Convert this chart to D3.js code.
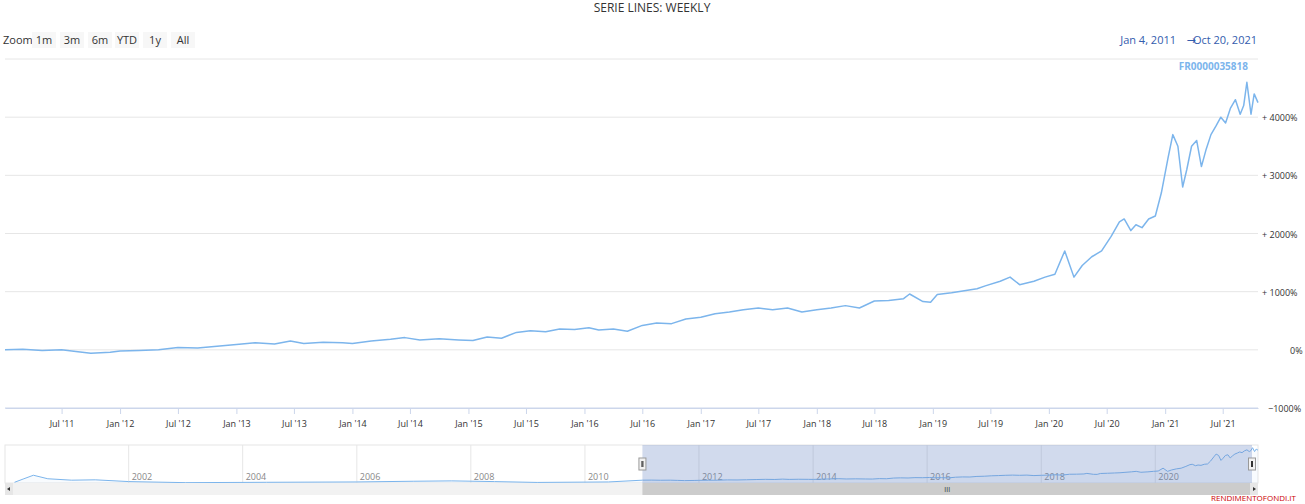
<!DOCTYPE html>
<html><head><meta charset="utf-8">
<script src="https://cdn.jsdelivr.net/npm/d3@7"></script>
<style>body{margin:0;background:#fff;font-family:"Open Sans","DejaVu Sans",sans-serif}</style>
</head><body><div id="chart"></div>
<script>
// main series (weekly-ish points), value in %
var dates = ["2011-01-04","2011-03-01","2011-05-01","2011-07-01","2011-08-15","2011-10-01","2011-12-01","2012-01-01","2012-03-01","2012-05-01","2012-07-01","2012-09-01","2012-11-01","2013-01-01","2013-03-01","2013-05-01","2013-06-20","2013-08-01","2013-10-01","2013-12-01","2014-01-01","2014-03-01","2014-05-01","2014-06-15","2014-08-01","2014-10-01","2014-12-01","2015-01-15","2015-03-01","2015-04-15","2015-06-01","2015-07-15","2015-09-01","2015-10-15","2015-12-01","2016-01-15","2016-02-15","2016-04-01","2016-05-15","2016-07-01","2016-08-15","2016-10-01","2016-11-15","2017-01-01","2017-02-15","2017-04-01","2017-05-15","2017-07-01","2017-08-15","2017-10-01","2017-11-15","2018-01-01","2018-02-15","2018-04-01","2018-05-15","2018-07-01","2018-08-15","2018-10-01","2018-10-20","2018-12-01","2018-12-25","2019-01-15","2019-03-01","2019-04-15","2019-05-20","2019-06-15","2019-08-01","2019-09-01","2019-10-01","2019-11-15","2019-12-20","2020-01-20","2020-02-20","2020-03-20","2020-04-15","2020-05-15","2020-06-15","2020-07-15","2020-08-10","2020-08-25","2020-09-15","2020-10-01","2020-10-20","2020-11-10","2020-12-01","2020-12-20","2021-01-10","2021-01-25","2021-02-10","2021-02-25","2021-03-10","2021-03-25","2021-04-10","2021-04-25","2021-05-10","2021-05-25","2021-06-10","2021-06-25","2021-07-10","2021-07-25","2021-08-10","2021-08-25","2021-09-05","2021-09-15","2021-09-28","2021-10-08","2021-10-20"];
var values = [0,10,-10,0,-30,-60,-40,-20,-10,0,40,30,60,90,120,100,150,110,130,120,110,150,180,210,170,190,170,160,220,200,300,330,310,360,350,380,340,360,320,420,460,450,530,560,620,650,690,720,690,720,650,690,720,760,720,840,850,880,960,830,820,950,980,1020,1050,1100,1180,1250,1120,1180,1250,1300,1700,1250,1450,1600,1700,1950,2200,2250,2050,2150,2100,2250,2300,2700,3300,3700,3500,2800,3100,3500,3600,3150,3450,3700,3850,4000,3900,4150,4300,4050,4200,4600,4050,4400,4250];
// navigator history before 2011
var navDates = ["2000-01-01","2000-03-01","2000-05-01","2000-08-01","2001-01-01","2001-06-01","2002-01-01","2003-01-01","2004-06-01","2006-01-01","2007-01-01","2007-09-01","2008-06-01","2009-03-01","2010-06-01","2011-01-04"];
var navValues = [-300,200,700,200,0,50,-200,-350,-300,-250,-150,-100,-200,-320,-250,-230];
var yTicks = [-1000,0,1000,2000,3000,4000];
var navYears = [2002,2004,2006,2008,2010,2012,2014,2016,2018,2020];
var rangeBtns = ["1m","3m","6m","YTD","1y","All"];

var W = 1305, H = 504, x0 = 5, x1 = 1258;
var parse = d3.timeParse("%Y-%m-%d");
var data = dates.map(function(d, i){ return {d: parse(d), v: values[i]}; });
var navData = navDates.map(function(d, i){ return {d: parse(d), v: navValues[i]}; })
	.slice(0, -1).concat(data);

var svg = d3.select("#chart").append("svg").attr("width", W).attr("height", H);

svg.append("text").attr("x", 652).attr("y", 12).attr("text-anchor", "middle")
	.style("font-size", "12px").style("fill", "#333").text("SERIE LINES: WEEKLY");

// zoom buttons
svg.append("text").attr("x", 3).attr("y", 44).style("font-size", "11px").style("fill", "#333").text("Zoom");
var bx = [32, 60, 88, 115, 143, 171];
rangeBtns.forEach(function(b, i){
	var w = 24;
	svg.append("rect").attr("x", bx[i]).attr("y", 32).attr("width", w).attr("height", 16).attr("fill", "#f7f7f7");
	svg.append("text").attr("x", bx[i] + w/2).attr("y", 44).attr("text-anchor", "middle")
		.style("font-size", "11px").style("fill", "#333").text(b);
});
svg.append("text").attr("x", 1176).attr("y", 44).attr("text-anchor", "end")
	.style("font-size", "11px").style("fill", "#335cad").text("Jan 4, 2011");
svg.append("text").attr("x", 1191).attr("y", 44).attr("text-anchor", "middle")
	.style("font-size", "11px").style("fill", "#335cad").text("\u2192");
svg.append("text").attr("x", 1257).attr("y", 44).attr("text-anchor", "end")
	.style("font-size", "11px").style("fill", "#335cad").text("Oct 20, 2021");

var x = d3.scaleTime().domain([data[0].d, data[data.length-1].d]).range([x0, x1]);
var y = d3.scaleLinear().domain([-1000, 5000]).range([408, 59]);

var g = svg.append("g");
g.selectAll(".grid").data(yTicks.concat([5000])).enter().append("line")
	.attr("x1", x0).attr("x2", x1).attr("y1", function(d){ return y(d); }).attr("y2", function(d){ return y(d); })
	.attr("stroke", function(d){ return d == -1000 ? "#ccd6eb" : "#e6e6e6"; });

g.selectAll(".yl").data(yTicks).enter().append("text")
	.attr("x", 1262).attr("y", function(d){ return y(d) + 4; })
	.style("font-size", "9px").style("fill", "#333")
	.text(function(d){ return d < 0 ? "\u22121000%" : "+ " + d + "%"; })
	.each(function(d){ if (d <= 0) d3.select(this).text(d < 0 ? "\u22121000%" : "0%").attr("x", d < 0 ? 1268 : 1290); });

var xAxis = d3.axisBottom(x).ticks(d3.timeMonth.every(6))
	.tickFormat(function(d){ return (d.getMonth() == 0 ? "Jan '" : "Jul '") + d3.timeFormat("%y")(d); })
	.tickSize(6).tickSizeOuter(0);
var xa = svg.append("g").attr("transform", "translate(0,408)").call(xAxis);
xa.select(".domain").attr("stroke", "#ccd6eb");
xa.selectAll(".tick line").attr("stroke", "#ccd6eb");
xa.selectAll("text").attr("dy", "1.1em").style("font-size", "9px").style("fill", "#333")
	.style("font-family", "'Open Sans','DejaVu Sans',sans-serif");

var line = d3.line().x(function(d){ return x(d.d); }).y(function(d){ return y(d.v); });
svg.append("path").datum(data).attr("d", line).attr("fill", "none").attr("stroke", "#7cb5ec").attr("stroke-width", 1.5)
	.attr("stroke-linejoin", "round");

svg.append("text").attr("x", 1248).attr("y", 70).attr("text-anchor", "end")
	.style("font-size", "10px").style("font-weight", "bold").style("fill", "#7cb5ec").text("FR0000035818");

// navigator
var nx = d3.scaleTime().domain([parse("1999-11-01"), data[data.length-1].d]).range([x0, x1]);
var ny = d3.scaleLinear().domain([-400, 4700]).range([483, 447]);
svg.append("rect").attr("x", x0).attr("y", 445).attr("width", x1 - x0).attr("height", 38)
	.attr("fill", "none").attr("stroke", "#e6e6e6");
navYears.forEach(function(yr){
	var px = nx(new Date(yr, 0, 1));
	svg.append("line").attr("x1", px).attr("x2", px).attr("y1", 445).attr("y2", 483).attr("stroke", "#e6e6e6");
	svg.append("text").attr("x", px + 3).attr("y", 480).style("font-size", "9px").style("fill", "#888").text(yr);
});
var nline = d3.line().x(function(d){ return nx(d.d); }).y(function(d){ return ny(d.v); });
svg.append("path").datum(navData).attr("d", d3.area().x(function(d){ return nx(d.d); }).y0(483).y1(function(d){ return ny(d.v); }))
	.attr("fill", "#7cb5ec").attr("fill-opacity", 0.05);
svg.append("path").datum(navData).attr("d", nline).attr("fill", "none").attr("stroke", "#7cb5ec").attr("stroke-width", 1);
var sx0 = nx(data[0].d), sx1 = nx(data[data.length-1].d) - 6;
svg.append("rect").attr("x", sx0).attr("y", 445).attr("width", sx1 - sx0).attr("height", 38)
	.attr("fill", "rgba(102,133,194,0.3)");
[sx0, sx1].forEach(function(hx){
	svg.append("rect").attr("x", hx - 3.5).attr("y", 458).attr("width", 7).attr("height", 12)
		.attr("fill", "#f2f2f2").attr("stroke", "#999");
	svg.append("line").attr("x1", hx - 0.5).attr("x2", hx - 0.5).attr("y1", 461).attr("y2", 467).attr("stroke", "#333");
	svg.append("line").attr("x1", hx + 0.5).attr("x2", hx + 0.5).attr("y1", 461).attr("y2", 467).attr("stroke", "#333");
});
// scrollbar
svg.append("rect").attr("x", x0).attr("y", 483).attr("width", x1 - x0).attr("height", 12).attr("fill", "#f2f2f2");
svg.append("rect").attr("x", sx0).attr("y", 483).attr("width", sx1 - sx0).attr("height", 12).attr("fill", "#cccccc");
svg.append("text").attr("x", (sx0 + sx1)/2).attr("y", 492).attr("text-anchor", "middle").style("font-size", "7px").style("fill", "#333").text("III");
svg.append("rect").attr("x", x0).attr("y", 483).attr("width", 8).attr("height", 12).attr("fill", "#e6e6e6");
svg.append("rect").attr("x", x1 - 8).attr("y", 483).attr("width", 8).attr("height", 12).attr("fill", "#e6e6e6");
svg.append("path").attr("d", "M7,489 l3,-2 v4z").attr("fill", "#333");
svg.append("path").attr("d", "M1256,489 l-3,-2 v4z").attr("fill", "#333");

svg.append("text").attr("x", 1296).attr("y", 501).attr("text-anchor", "end")
	.style("font-size", "8px").style("fill", "#c00").text("RENDIMENTOFONDI.IT");
</script></body></html>
